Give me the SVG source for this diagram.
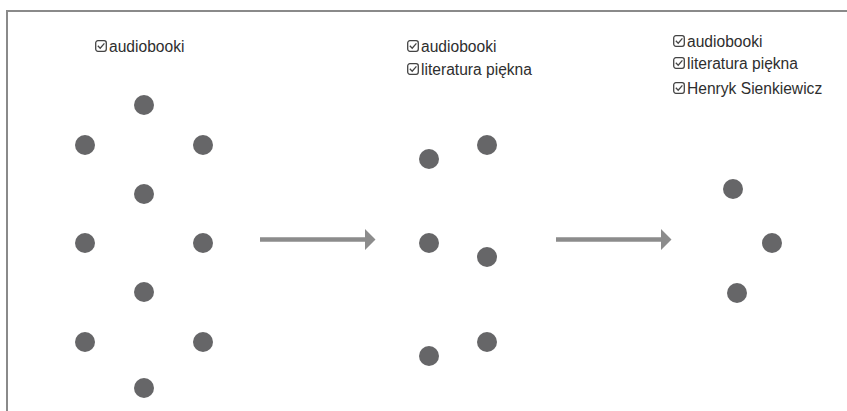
<svg xmlns="http://www.w3.org/2000/svg" width="847" height="411" viewBox="0 0 847 411">
<style>
.frame{stroke:#8a8a8a;stroke-width:2;fill:none}
.dot{fill:#666668}
.lbl{font-family:"Liberation Sans",Arial,sans-serif;font-size:15.6px;fill:#2e2e2e}
.cb{fill:none;stroke:#444;stroke-width:1.3}
.arrow{fill:#8c8c8c}
</style>
<defs>
<g id="chk">
<rect class="cb" x="0.7" y="0.7" width="10.6" height="10.6" rx="2.2"/>
<path class="cb" d="M2.8 5.8 L5.2 8.2 L9.4 3.4"/>
</g>
</defs>
<rect width="847" height="411" fill="#fff"/>
<path class="frame" d="M7 411 V11 H847"/>
<g id="labels">
<g id="label1"><use href="#chk" x="95" y="40"/><text class="lbl" x="109" y="52">audiobooki</text></g>
<g id="label2"><use href="#chk" x="407" y="40"/><text class="lbl" x="421" y="52">audiobooki</text>
<use href="#chk" x="407" y="63"/><text class="lbl" x="421" y="75">literatura piękna</text></g>
<g id="label3"><use href="#chk" x="673" y="35"/><text class="lbl" x="687" y="47">audiobooki</text>
<use href="#chk" x="673" y="57"/><text class="lbl" x="687" y="69">literatura piękna</text>
<use href="#chk" x="673" y="82"/><text class="lbl" x="687" y="94">Henryk Sienkiewicz</text></g>
</g>
<g id="set1">
<circle class="dot" cx="144" cy="105" r="10"/>
<circle class="dot" cx="85" cy="145" r="10"/>
<circle class="dot" cx="203" cy="145" r="10"/>
<circle class="dot" cx="144" cy="194" r="10"/>
<circle class="dot" cx="85" cy="243" r="10"/>
<circle class="dot" cx="203" cy="243" r="10"/>
<circle class="dot" cx="144" cy="292" r="10"/>
<circle class="dot" cx="85" cy="342" r="10"/>
<circle class="dot" cx="203" cy="342" r="10"/>
<circle class="dot" cx="144" cy="388" r="10"/>
</g>
<g id="set2">
<circle class="dot" cx="429" cy="159" r="10"/>
<circle class="dot" cx="487" cy="145" r="10"/>
<circle class="dot" cx="429" cy="243" r="10"/>
<circle class="dot" cx="487" cy="257" r="10"/>
<circle class="dot" cx="487" cy="342" r="10"/>
<circle class="dot" cx="429" cy="356" r="10"/>
</g>
<g id="set3">
<circle class="dot" cx="733" cy="189" r="10"/>
<circle class="dot" cx="772" cy="243" r="10"/>
<circle class="dot" cx="737" cy="293" r="10"/>
</g>
<g id="connectors">
<path class="arrow" d="M260 237.2 H365 V229 L375.5 239.5 L365 250 V241.8 H260 Z"/>
<path class="arrow" d="M556 237.2 H661 V229 L671.5 239.5 L661 250 V241.8 H556 Z"/>
</g>
</svg>
